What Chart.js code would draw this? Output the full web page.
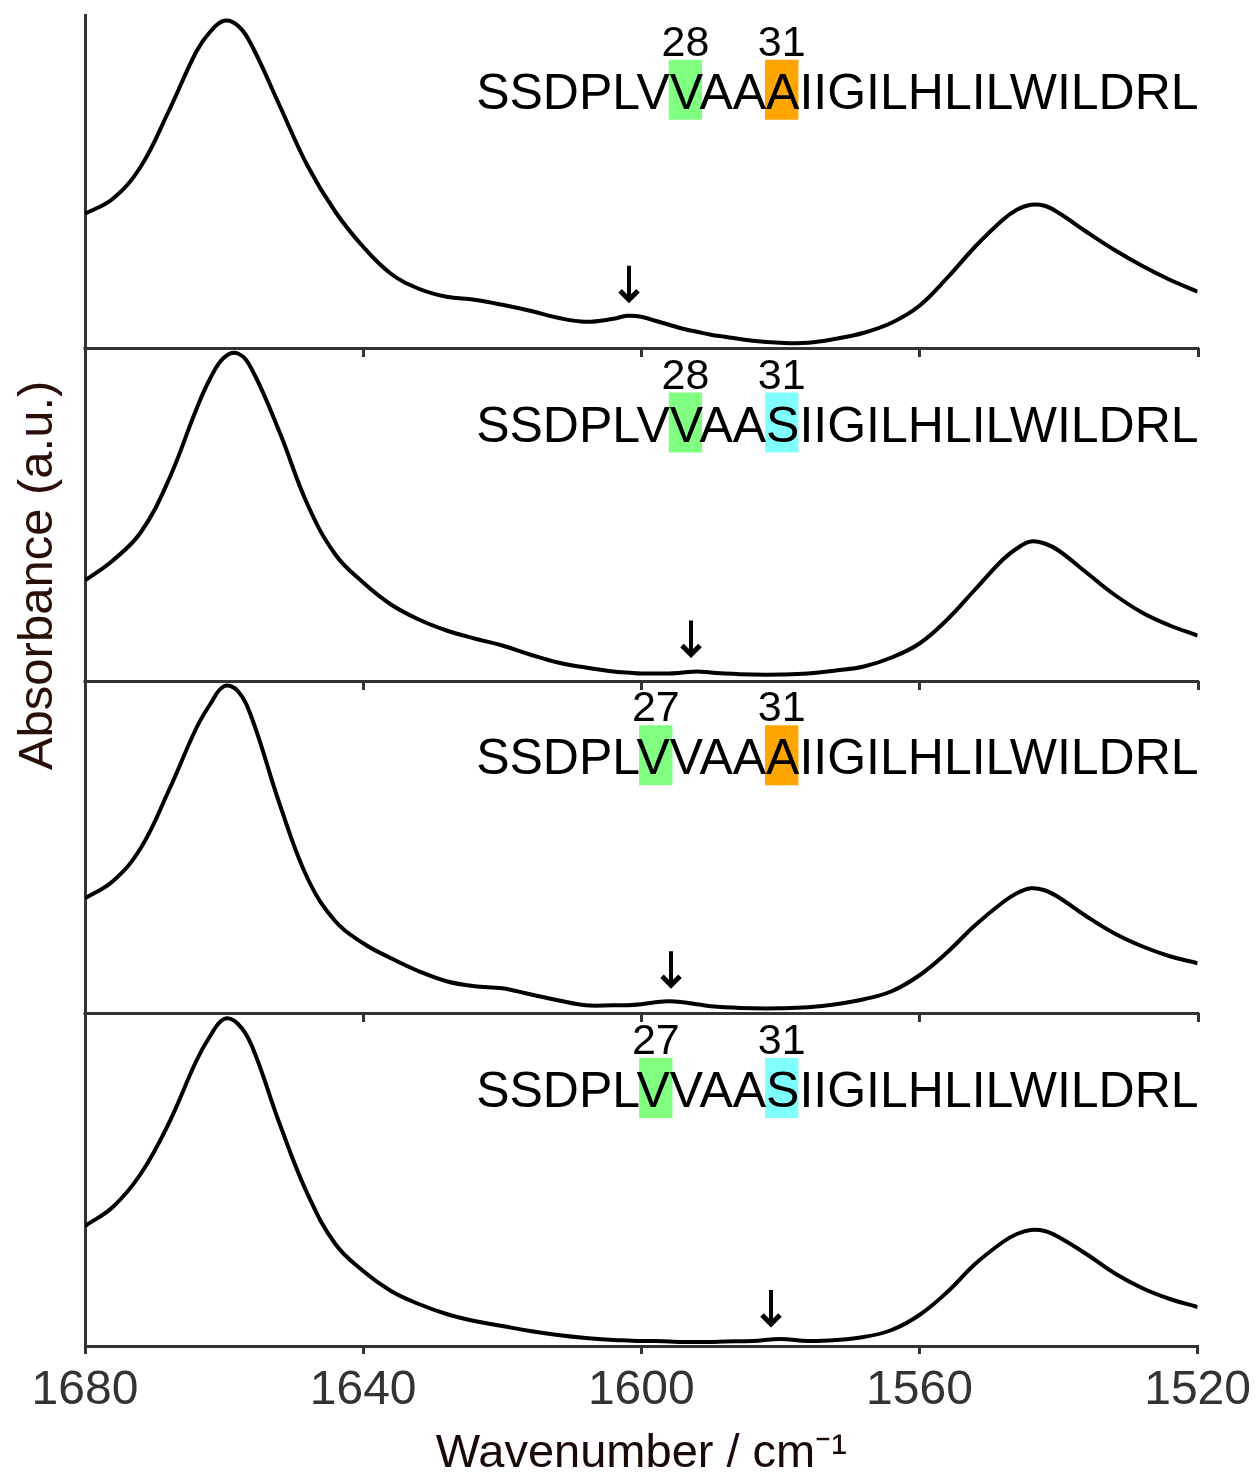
<!DOCTYPE html>
<html>
<head>
<meta charset="utf-8">
<script src="https://cdn.jsdelivr.net/npm/chart.js@4.4.0/dist/chart.umd.min.js"></script>
<style>
html,body{margin:0;padding:0;background:#fff;}
canvas{display:block;}
</style>
</head>
<body>
<canvas id="c" width="1259" height="1475"></canvas>
<script>
// ---------- DATA ----------
const wavenumbers = [1680,1676,1672,1668,1664,1662,1660,1658,1656,1652,1648,1644,1640,1636,1632,1628,1624,1620,1616,1612,1608,1604,1602,1600,1598,1596,1594,1592,1590,1588,1584,1580,1576,1572,1568,1564,1560,1556,1552,1548,1546,1544,1542,1540,1536,1532,1528,1524,1520];

// absorbance (a.u.) per panel, top to bottom
const absV28A31 = [134,149,181,236,296,316,327,322,302,242,182,136,101,74,59,51,48,43,37,30,26,29,32,31,27,23,19,16,13,11,7,5,5,9,15,25,42,70,101,128,138,143,142,135,116,98,82,68,56];
const absV28S31 = [100,120,148,200,271,302,323,327,311,248,176,126,98,76,61,50,42,35,26,18,13,9,8,7,7,7,8,9,8,7,6,6,7,10,14,23,37,61,91,121,132,139,137,130,108,86,68,55,45];
const absV27A31 = [115,132,165,222,285,309,327,322,295,209,135,92,70,55,42,32,27,25,19,13,8,8,8,9,11,12,11,9,7,6,5,5,6,9,14,22,38,61,88,111,120,125,123,116,97,80,67,57,50];
const absV27S31 = [120,139,172,222,285,310,327,322,300,222,152,102,75,55,42,32,25,20,15,11,8,6,5.5,5,5,4.5,4,4,4,4.5,5,7,5,6,9,16,31,54,82,104,112,116,115,109,92,73,58,47,39];

const panelSeries = [absV28A31, absV28S31, absV27A31, absV27S31];
const sequences = [
  'SSDPLVVAAAIIGILHLILWILDRL',
  'SSDPLVVAASIIGILHLILWILDRL',
  'SSDPLVVAAAIIGILHLILWILDRL',
  'SSDPLVVAASIIGILHLILWILDRL'
];
const firstResidue = 22;   // residue number of the first letter of the sequence
const highlightResidues = [[28,31],[28,31],[27,31],[27,31]];
const highlightColors = [['#80ff80','#ffa500'],['#80ff80','#80ffff'],['#80ff80','#ffa500'],['#80ff80','#80ffff']];
const arrowWavenumbers = [1601.8, 1592.9, 1595.8, 1581.3];
const arrowTipLevels = [44, 22, 24, 18];
const xTicks = [1680, 1640, 1600, 1560, 1520];

// ---------- LAYOUT CONSTANTS ----------
const panelMax = 332.75;
const seqStartWavenumber = 1623.75;
const seqBaselineLevel = 239;
const numBaselineLevel = 292;
const boxTopLevel = 288;
const boxBottomLevel = 228;
const panelIds = ['p1','p2','p3','p4'];   // top to bottom
const FONT = '"Liberation Sans", Arial, Helvetica, sans-serif';

const datasets = panelSeries.map((vals, i) => ({
  label: sequences[i],
  data: wavenumbers.map((w, k) => ({x: w, y: vals[k]})),
  yAxisID: panelIds[i],
  borderColor: '#000',
  borderWidth: 4,
  pointRadius: 0,
  fill: false,
  tension: 0.4
}));

const yScale = () => ({
  type: 'linear',
  position: 'left',
  stack: 'panels',
  stackWeight: 1,
  min: 0,
  max: panelMax,
  ticks: {display: false},
  grid: {display: false, drawTicks: false},
  border: {display: true, color: '#333', width: 3},
  afterFit: s => { s.width = 0; }
});

const scales = {
  x: {
    type: 'linear',
    position: 'bottom',
    reverse: true,
    min: 1520,
    max: 1680,
    afterBuildTicks: s => { s.ticks = xTicks.map(v => ({value: v})); },
    afterFit: s => { s.height = 129; },
    ticks: {
      font: {family: FONT, size: 48, lineHeight: 1.2},
      color: '#333',
      padding: 8,
      maxRotation: 0,
      autoSkip: false,
      callback: v => String(v)
    },
    grid: {display: true, drawOnChartArea: false, drawTicks: true, tickLength: 8, lineWidth: 3, color: '#333'},
    border: {display: true, color: '#333', width: 3},
    title: {
      display: true,
      text: 'Wavenumber / cm⁻¹',
      color: '#1a0a05',
      font: {family: FONT, size: 47, lineHeight: 0.9},
      padding: {top: 0, bottom: 0}
    }
  }
};
// stacked left axes are laid out last-defined on top, so insert bottom panel first
panelIds.slice().reverse().forEach(id => { scales[id] = yScale(); });

const annotations = {
  id: 'panelAnnotations',
  beforeDatasetsDraw(chart) {
    const ctx = chart.ctx;
    const xs = chart.scales.x;
    const area = chart.chartArea;
    ctx.save();
    // separators between panels (axis line with ticks)
    panelIds.forEach((id, i) => {
      if (i === panelIds.length - 1) return;
      const ys = chart.scales[id];
      const y = Math.round(ys.getPixelForValue(0));
      ctx.strokeStyle = '#333';
      ctx.lineWidth = 3;
      ctx.beginPath();
      ctx.moveTo(area.left - 1.5, y + 0.5);
      ctx.lineTo(area.right + 1.5, y + 0.5);
      ctx.stroke();
      xTicks.forEach(t => {
        const x = Math.round(xs.getPixelForValue(t)) + 0.5;
        ctx.beginPath();
        ctx.moveTo(x, y);
        ctx.lineTo(x, y + 9);
        ctx.stroke();
      });
    });
    // highlight boxes
    ctx.font = '50px ' + FONT;
    panelIds.forEach((id, i) => {
      const ys = chart.scales[id];
      const x0 = xs.getPixelForValue(seqStartWavenumber);
      const top = ys.getPixelForValue(boxTopLevel);
      const bot = ys.getPixelForValue(boxBottomLevel);
      highlightResidues[i].forEach((res, j) => {
        const idx = res - firstResidue;
        const pre = ctx.measureText(sequences[i].slice(0, idx)).width;
        const w = ctx.measureText(sequences[i][idx]).width;
        ctx.fillStyle = highlightColors[i][j];
        ctx.fillRect(x0 + pre - 1, top, w, bot - top);
      });
    });
    ctx.restore();
  },
  afterDatasetsDraw(chart) {
    const ctx = chart.ctx;
    const xs = chart.scales.x;
    const area = chart.chartArea;
    ctx.save();
    panelIds.forEach((id, i) => {
      const ys = chart.scales[id];
      const x0 = xs.getPixelForValue(seqStartWavenumber);
      // sequence
      ctx.font = '50px ' + FONT;
      ctx.fillStyle = '#000';
      ctx.textAlign = 'left';
      ctx.textBaseline = 'alphabetic';
      const base = ys.getPixelForValue(seqBaselineLevel);
      ctx.fillText(sequences[i], x0, base);
      // residue numbers
      const centers = highlightResidues[i].map(res => {
        const idx = res - firstResidue;
        const pre = ctx.measureText(sequences[i].slice(0, idx)).width;
        const w = ctx.measureText(sequences[i][idx]).width;
        return x0 + pre + w / 2 - 1;
      });
      ctx.font = '43px ' + FONT;
      ctx.textAlign = 'center';
      const nb = ys.getPixelForValue(numBaselineLevel);
      highlightResidues[i].forEach((res, j) => ctx.fillText(String(res), centers[j], nb));
      // arrow
      const ax = Math.round(xs.getPixelForValue(arrowWavenumbers[i]));
      const tip = ys.getPixelForValue(arrowTipLevels[i]);
      ctx.strokeStyle = '#000';
      ctx.lineWidth = 4;
      ctx.lineCap = 'butt';
      ctx.lineJoin = 'miter';
      ctx.beginPath();
      ctx.moveTo(ax, tip - 38);
      ctx.lineTo(ax, tip - 4);
      ctx.stroke();
      ctx.lineWidth = 5;
      ctx.beginPath();
      ctx.moveTo(ax - 9, tip - 13);
      ctx.lineTo(ax, tip - 4);
      ctx.lineTo(ax + 9, tip - 13);
      ctx.stroke();
    });
    // y-axis title
    ctx.font = '49px ' + FONT;
    ctx.fillStyle = '#2a0e08';
    ctx.textAlign = 'center';
    ctx.textBaseline = 'alphabetic';
    ctx.translate(area.left - 33, area.top + 0.421 * (area.bottom - area.top));
    ctx.rotate(-Math.PI / 2);
    ctx.fillText('Absorbance (a.u.)', 0, 0);
    ctx.restore();
  }
};

new Chart(document.getElementById('c'), {
  type: 'line',
  data: {datasets},
  options: {
    responsive: false,
    animation: false,
    layout: {padding: {left: 85, right: 59, top: 15, bottom: 0}},
    plugins: {legend: {display: false}, tooltip: {enabled: false}},
    scales
  },
  plugins: [annotations]
});
</script>
</body>
</html>
